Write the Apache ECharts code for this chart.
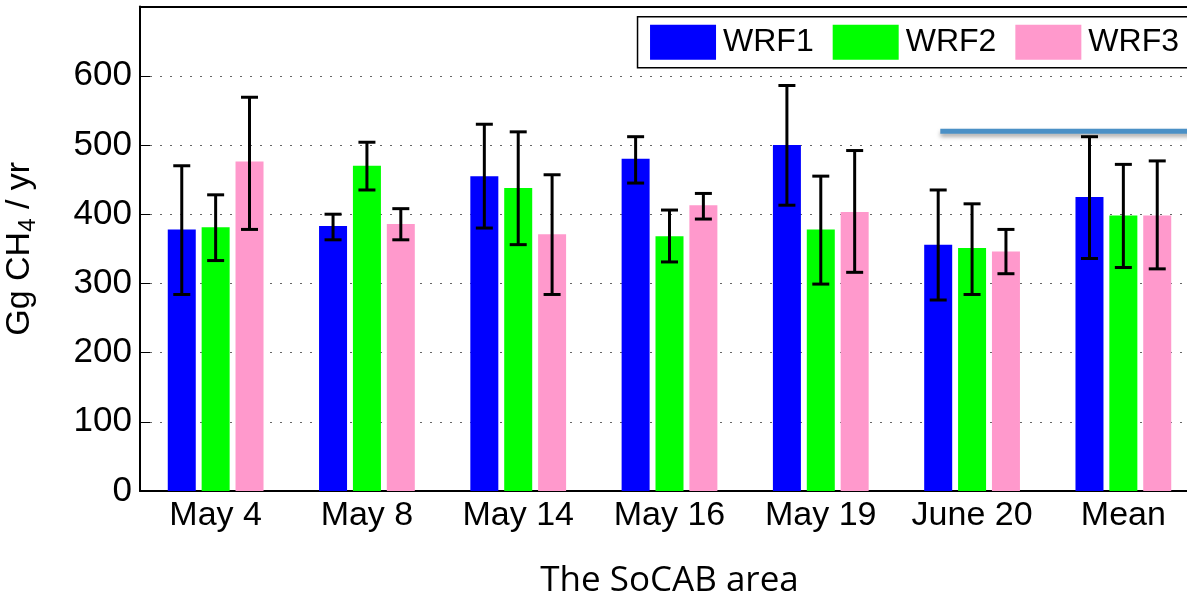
<!DOCTYPE html>
<html><head><meta charset="utf-8">
<script src="https://cdn.jsdelivr.net/npm/echarts@6/dist/echarts.min.js"></script>
<style>html,body{margin:0;padding:0;background:#fff}#c{width:1187px;height:603px}</style>
</head><body><div id="c"></div>
<script>
// ---- data ----
const categories = ['May 4', 'May 8', 'May 14', 'May 16', 'May 19', 'June 20', 'Mean'];
const seriesNames = ['WRF1', 'WRF2', 'WRF3'];
const wrf1 = [378, 383, 455, 480, 500, 356, 425];
const wrf2 = [381, 470, 438, 368, 378, 351, 398];
const wrf3 = [476, 386, 371, 413, 403, 346, 398];
const wrf1Low  = [284, 363, 380, 445, 413, 276, 336];
const wrf1High = [470, 400, 530, 512, 586, 435, 512];
const wrf2Low  = [333, 435, 356, 331, 299, 284, 323];
const wrf2High = [428, 504, 519, 406, 455, 415, 472];
const wrf3Low  = [378, 363, 284, 393, 316, 314, 321];
const wrf3High = [569, 408, 457, 430, 492, 378, 477];
const yMin = 0, yMax = 700, yStep = 100;
// reference line (category-index units on a hidden value axis)
const refLineValue = 520;
const refLineX = [4.79, 6.5];

// ---- style ----
const colors = ['#0000ff', '#00ff00', '#ff99cc'];
const BAR_W = 28, BAR_GAP = 0.21;
const PITCH = BAR_W * (1 + BAR_GAP);
const FONT = 'Liberation Sans, Arial, Helvetica, sans-serif';

function errSeries(k, low, high) {
  return {
    type: 'custom', xAxisIndex: 0, yAxisIndex: 0, z: 10, silent: true,
    data: low.map((l, i) => [i, l, high[i]]),
    encode: { x: 0, y: [1, 2] },
    renderItem: function (params, api) {
      const i = api.value(0);
      const pLow = api.coord([i, api.value(1)]);
      const pHigh = api.coord([i, api.value(2)]);
      const x = pLow[0] + (k - 1) * PITCH;
      const cap = 8.5;
      const st = { stroke: '#000', lineWidth: 3 };
      return {
        type: 'group', children: [
          { type: 'line', shape: { x1: x, y1: pLow[1], x2: x, y2: pHigh[1] }, style: st },
          { type: 'line', shape: { x1: x - cap, y1: pLow[1], x2: x + cap, y2: pLow[1] }, style: st },
          { type: 'line', shape: { x1: x - cap, y1: pHigh[1], x2: x + cap, y2: pHigh[1] }, style: st }
        ]
      };
    }
  };
}

const barData = [wrf1, wrf2, wrf3];
const chart = echarts.init(document.getElementById('c'), null, { renderer: 'canvas' });
chart.setOption({
  animation: false,
  textStyle: { fontFamily: FONT },
  grid: { left: 140, top: 6.6, width: 1059, height: 484.4, containLabel: false, outerBoundsMode: 'none' },
  legend: {
    data: seriesNames, right: -22, top: 16.7, width: 640,
    itemWidth: 66, itemHeight: 35, itemGap: 19,
    padding: [8, 30, 8, 12.5],
    borderColor: '#000', borderWidth: 1.5, backgroundColor: '#fff',
    icon: 'rect', selectedMode: false, z: 20,
    textStyle: { fontSize: 32, color: '#000', fontFamily: FONT, padding: [0, 0, 0, 2] }
  },
  xAxis: [
    {
      type: 'category', data: categories, position: 'bottom',
      axisLine: { lineStyle: { color: '#000', width: 2 } },
      axisTick: { inside: true, alignWithLabel: true, length: 10, lineStyle: { color: '#000' } },
      axisLabel: { interval: 0, fontSize: 34, color: '#000', margin: 8, fontFamily: FONT },
      name: 'The SoCAB area', nameLocation: 'middle', nameGap: 73,
      nameTextStyle: { fontSize: 35, color: '#000', fontFamily: 'Open Sans, Noto Sans, sans-serif' }
    },
    {
      type: 'category', data: categories, position: 'top',
      axisLine: { lineStyle: { color: '#000', width: 2 } },
      axisTick: { inside: true, alignWithLabel: true, length: 10, lineStyle: { color: '#000' } },
      axisLabel: { show: false }
    },
    {
      type: 'value', min: -0.5, max: 6.5, show: false
    }
  ],
  yAxis: {
    type: 'value', min: yMin, max: yMax, interval: yStep,
    axisLine: { show: true, onZero: false, lineStyle: { color: '#000', width: 2 } },
    axisTick: { show: true, inside: true, length: 10, lineStyle: { color: '#000' } },
    axisLabel: { fontSize: 35, color: '#000', margin: 8, showMaxLabel: false, fontFamily: FONT },
    splitLine: { show: true, lineStyle: { color: '#666', type: [2, 8], width: 1 } },
    name: '{a|Gg CH}{s|4}{a| / yr}', nameLocation: 'middle', nameGap: 100, nameRotate: 90,
    nameTextStyle: {
      fontSize: 34, color: '#000', fontFamily: FONT,
      rich: {
        a: { fontSize: 34, color: '#000', fontFamily: FONT },
        s: { fontSize: 24, color: '#000', fontFamily: FONT, padding: [16, 0, 0, 0] }
      }
    }
  },
  series: [
    ...seriesNames.map((n, k) => ({
      name: n, type: 'bar', data: barData[k], barWidth: BAR_W, barGap: (BAR_GAP * 100) + '%',
      itemStyle: { color: colors[k] }, xAxisIndex: 0, yAxisIndex: 0
    })),
    errSeries(0, wrf1Low, wrf1High),
    errSeries(1, wrf2Low, wrf2High),
    errSeries(2, wrf3Low, wrf3High),
    {
      type: 'line', xAxisIndex: 2, yAxisIndex: 0, silent: true, symbol: 'none', z: 12,
      data: refLineX.map(x => [x, refLineValue]),
      lineStyle: { color: '#4a90c6', width: 5, shadowColor: 'rgba(0,0,0,0.35)', shadowBlur: 4, shadowOffsetY: 3 }
    }
  ]
});
</script></body></html>
